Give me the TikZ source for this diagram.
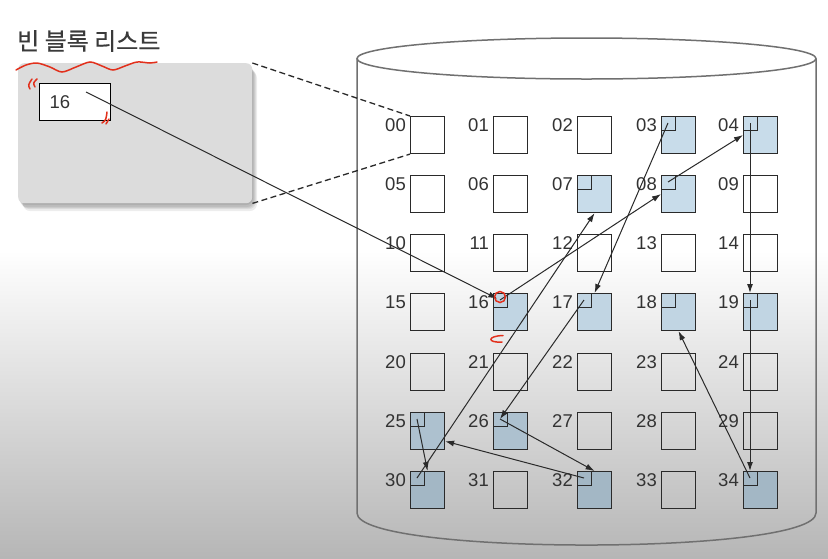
\documentclass[tikz,border=0pt]{standalone}
\usepackage{fontspec}
\setmainfont{Liberation Sans}
\newfontfamily\krfont[FakeBold=0.6]{Noto Sans CJK KR}
\usetikzlibrary{calc,arrows.meta}
\definecolor{bggray}{HTML}{B6B6B6}
\definecolor{panelgray}{HTML}{DCDCDC}
\definecolor{linec}{HTML}{2A2A2A}
\definecolor{labelc}{HTML}{333333}
\definecolor{cylc}{HTML}{707070}
\definecolor{blkA}{HTML}{C8DCEA}
\definecolor{blkB}{HTML}{95A8B6}
\definecolor{redc}{HTML}{E2301C}
\definecolor{titlec}{HTML}{3A3A3A}
\tikzset{
  blk/.style={draw=linec, line width=1.1pt, minimum width=34pt, minimum height=37pt, inner sep=0pt, anchor=north west},
  lbl/.style={anchor=east, inner sep=0pt, font=\fontsize{18.5}{20}\selectfont, text=labelc},
  conn/.style={draw=linec, line width=1pt, -{Latex[length=9pt,width=6pt]}},
  dashline/.style={draw=linec, line width=1.3pt, dash pattern=on 6pt off 3.5pt},
  cyl/.style={draw=cylc, line width=1.5pt},
  redmark/.style={draw=redc, line width=1.5pt, line cap=round},
  panelbox/.style={fill=panelgray, rounded corners=6pt, minimum width=234pt, minimum height=140pt, anchor=north west, inner sep=0pt}
}
\begin{document}
\begin{tikzpicture}[x=1pt,y=-1pt]
\useasboundingbox (0,0) rectangle (828,558);
% background
\fill[white] (0,0) rectangle (828,251);
\shade[top color=white, bottom color=bggray] (0,250) rectangle (828,558);
% cylinder
\draw[cyl] (357,58.5) -- (357,513) .. controls (357,555.7) and (816,555.7) .. (816,513) -- (816,58.5);
\draw[cyl, fill=white] (586.5,58.5) ellipse [x radius=229.5, y radius=20.5];
% panel shadow
\foreach \dx/\dy in {1/2,2/4,3/5,4/6,5/8}{
  \fill[black, opacity=0.07, rounded corners=7pt] (18+\dx,63+\dy) rectangle (252+\dx,203+\dy);
}
\node[panelbox] (panel) at (18,63) {};
\node[draw=black, line width=0.9pt, fill=white, minimum width=71pt, minimum height=37pt, anchor=north west, inner sep=0pt] (flbox) at (39,83) {};
\node[font=\fontsize{18.5}{20}\selectfont, text=labelc, inner sep=0pt] (fltext) at (60,102) {16};
\coordinate (fls) at (86,92);
% title
\node[anchor=west, inner sep=0pt, text=titlec, font=\fontsize{24}{26}\selectfont\krfont] (title) at (17,41) {빈 블록 리스트};
% blocks
\foreach \r in {0,...,6}{
  \foreach \c in {0,...,4}{
    \pgfmathtruncatemacro\n{5*\r+\c}
    \pgfmathtruncatemacro\s{{0,0,0,1,1,0,0,1,1,0,0,0,0,0,0,0,1,1,1,1,0,0,0,0,0,1,1,0,0,0,1,0,1,0,1}[\n]}
    \pgfmathsetmacro\bx{{410,493,577,661,743}[\c]}
    \pgfmathsetmacro\by{{116,175,234,293,353,412,471}[\r]}
    \pgfmathtruncatemacro\pct{max(0,min(100,100-(\by-250)/3.1))}
    \ifnum\n<10 \edef\nm{0\n}\else\edef\nm{\n}\fi
    \ifnum\s=1 \fill[blkA!\pct!blkB] (\bx,\by) rectangle ++(34,37); \fi
    \node[blk] (b\nm) at (\bx,\by) {};
    \node[lbl] (l\nm) at ($(b\nm.north west)+(-4,9.5)$) {\nm};
    \ifnum\s=1
      \draw[draw=linec, line width=0.9pt] (b\nm.north west) rectangle ++(14,14);
      \coordinate (c\nm) at ($(b\nm.north west)+(7,7)$);
    \fi
  }
}
% dashed zoom lines
\draw[dashline] (panel.north east) -- (b00.north west);
\draw[dashline] (panel.south east) -- (b00.south west);
% links
\draw[conn, shorten >=3pt] (fls) -- (c16);
\draw[conn] (c16) -- (b08.west);
\draw[conn] (c08) -- (b04.west);
\draw[conn] (c04) -- (c04 |- b19.north);
\draw[conn] (c19) -- (c19 |- b34.north);
\draw[conn] (c34) -- (b18.south);
\draw[conn] (c03) -- (b17.north);
\draw[conn] (c17) -- (c26);
\draw[conn] (c26) -- (b32.north);
\draw[conn] (c32) -- (b25.-30);
\draw[conn] (c25) -- (b30.north);
\draw[conn] (c30) -- (b07.south);
% red annotations
\draw[redmark] plot[smooth] coordinates {(16,70) (26,65) (37,63) (50,67) (62,72) (76,67) (90,62) (102,66) (113,70) (125,66) (137,62) (150,63) (157,62)};
\draw[redmark] (30,89) .. controls (28,85) .. (32,79);
\draw[redmark] (35,87) .. controls (33,83) .. (37,79);
\draw[redmark] (102,123) .. controls (106,120) .. (107,112);
\draw[redmark] (106,124) -- (109,119);
\draw[redmark] (500,297) circle [radius=5.5];
\draw[redmark] (503,335.5) .. controls (487,336) and (487,343) .. (502,342);
\end{tikzpicture}
\end{document}
